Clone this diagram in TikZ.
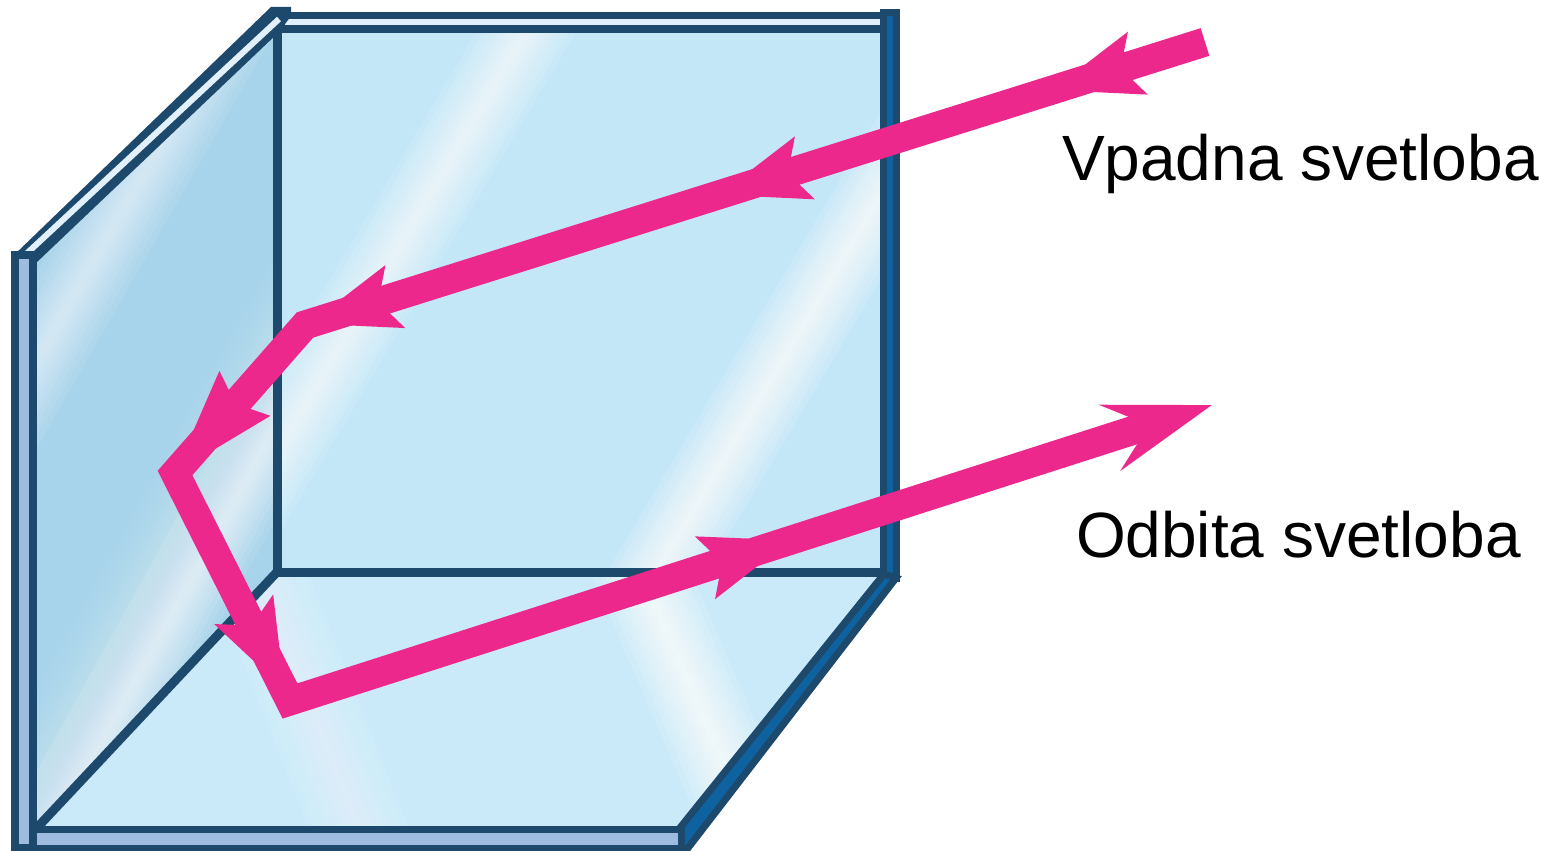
\documentclass[tikz,border=0pt]{standalone}
\usepackage{fontspec}
\setmainfont{Liberation Sans}
\usetikzlibrary{arrows.meta,calc}

\definecolor{glassback}{RGB}{196,231,248}
\definecolor{glassleft}{RGB}{168,212,235}
\definecolor{glassfloor}{RGB}{203,234,249}
\definecolor{rim}{RGB}{28,73,108}
\definecolor{rimface}{RGB}{157,188,223}
\definecolor{rimblue}{RGB}{14,98,160}
\definecolor{rimglow}{RGB}{225,240,250}
\definecolor{raypink}{RGB}{236,40,140}

% soft white reflection band on a glass pane, from (#1,#2) to (#3,#4), strength #5
\newcommand\mirrorglint[5]{%
  \foreach \gw in {50,43,37,31,26,21,16,12,8,4}{%
    \pgfmathsetmacro\glo{#5*0.075}%
    \fill[white,opacity=\glo] ({#1-\gw},#2) -- ({#3-\gw},#4) -- ({#3+\gw},#4) -- ({#1+\gw},#2) -- cycle;
  }%
}
% barbed arrowhead on the ray from (#1) to (#2), tip at fraction #3;
% #4 length, #5 half width, #6 depth of the notch
\newcommand\raybarb[6]{%
  \coordinate (barbtip) at ($(#1)!#3!(#2)$);
  \coordinate (barbback) at ($(barbtip)!#4!(#1)$);
  \coordinate (barbnotch) at ($(barbtip)!#6!(#1)$);
  \fill[raypink] (barbtip) -- ($(barbback)!#5!90:(barbtip)$) -- (barbnotch)
    -- ($(barbback)!#5!-90:(barbtip)$) -- cycle;
}

\begin{document}
\begin{tikzpicture}[x=1pt,y=-1pt]
\tikzset{
  RayTipLong/.tip={Stealth[length=106pt,width=68pt,inset=40pt,color=raypink,fill=raypink]},
  rimline/.style={draw=rim,line width=9pt},
  raystroke/.style={draw=raypink,line width=29pt,line join=miter},
  lbl/.style={inner sep=0pt,outer sep=0pt,font=\fontsize{64}{76}\selectfont,text=black,anchor=base west},
}
\useasboundingbox (0,0) rectangle (1555,851);

% left pane
\begin{scope}
  \clip (33,258) -- (277,30) -- (277,572) -- (33,832) -- cycle;
  \fill[glassleft] (0,0) rectangle (300,851);
  \mirrorglint{-100}{600}{243}{0}{1.0}
  \mirrorglint{16}{900}{347}{300}{1.2}
  \mirrorglint{-60}{960}{330}{250}{0.4}
\end{scope}

% back pane
\begin{scope}
  \clip (277,28) rectangle (884,572);
  \fill[glassback] (277,28) rectangle (884,572);
  \mirrorglint{190}{600}{545}{0}{1.3}
  \mirrorglint{640}{600}{997}{0}{1.6}
\end{scope}

% floor pane
\begin{scope}
  \clip (277,572) -- (886,572) -- (678,830) -- (33,830) -- cycle;
  \fill[glassfloor] (0,560) rectangle (900,840);
  \mirrorglint{627}{540}{765}{860}{1.6}
  \mirrorglint{253}{560}{372}{862}{0.7}
\end{scope}

% inner seams of the corner
\draw[rimline] (277,20) -- (277,572);
\draw[rimline] (277,572) -- (884,572);
\draw[rimline] (277,572) -- (33,832);

% top rim of the back pane
\fill[rim] (276,12) rectangle (897,33);
\draw[rimglow,line width=6pt] (285,22.5) -- (886,22.5);

% top rim of the left pane
\fill[rim] (12,257) -- (271,7) -- (291,7) -- (291,16) -- (279,32) -- (36,263) -- cycle;
\draw[rimglow,line width=6pt] (24,256) -- (279,19);

% right rim of the back pane
\draw[rimline,line width=7pt,fill=rimblue] (883,13) rectangle (896,578);

% slanted right rim of the floor pane
\draw[rimline,line width=7pt,fill=rimblue] (884,574) -- (896,578) -- (688,848) -- (681,848) -- (679,829) -- cycle;

% front faces of the left and floor panes
\draw[rimline,line width=8pt,fill=rimface] (15,255) rectangle (33,848);
\draw[rimline,line width=7pt,fill=rimface] (33,829) rectangle (681,848);

% light ray
\coordinate (r0) at (1205,42);
\coordinate (r1) at (305,325);
\coordinate (r2) at (175,473);
\coordinate (r3) at (290,701);
\coordinate (r4) at (1212,405);

\draw[raystroke,-{RayTipLong}] (r0) -- (r1) -- (r2) -- (r3) -- (r4);
\raybarb{r0}{r1}{0.17}{90pt}{33pt}{72pt}
\raybarb{r0}{r1}{0.54}{90pt}{33pt}{72pt}
\raybarb{r0}{r1}{0.995}{90pt}{33pt}{72pt}
\raybarb{r1}{r2}{1}{106pt}{34pt}{92pt}
\raybarb{r2}{r3}{0.95}{90pt}{33pt}{72pt}
\raybarb{r3}{r4}{0.543}{90pt}{33pt}{72pt}

% labels
\node[lbl] (incident) at (1062,180) {Vpadna svetloba};
\node[lbl] (reflected) at (1076,557) {Odbita svetloba};
\end{tikzpicture}
\end{document}
